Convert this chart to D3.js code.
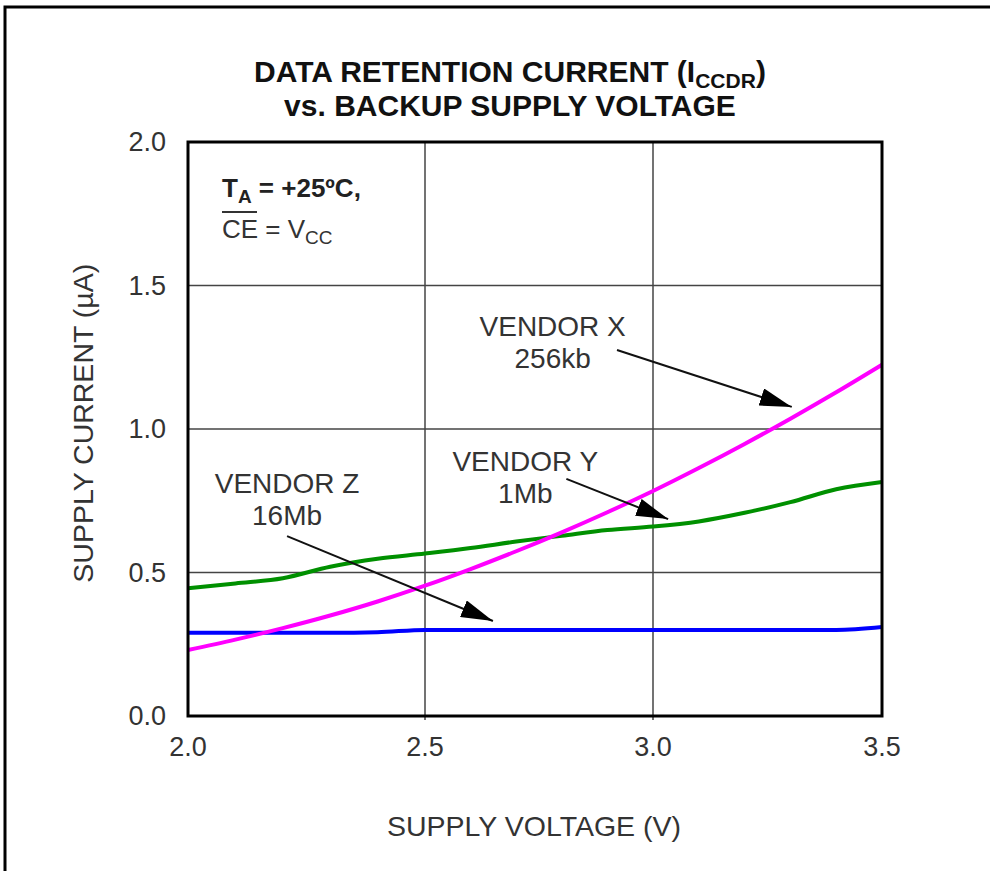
<!DOCTYPE html>
<html>
<head>
<meta charset="utf-8">
<script src="https://cdn.jsdelivr.net/npm/d3@7"></script>
<style>
  body { margin: 0; background: #fff; }
  svg text { font-family: "Liberation Sans", Arial, Helvetica, sans-serif; }
</style>
</head>
<body>
<div id="dataviz"></div>
<script>
// supply voltage samples (V)
var voltage = [2.0, 2.1, 2.2, 2.3, 2.4, 2.5, 2.6, 2.7, 2.8, 2.9, 3.0, 3.1, 3.2, 3.3, 3.4, 3.5];

// supply current (uA)
var vendorX = [0.23, 0.266, 0.306, 0.35, 0.399, 0.454, 0.512, 0.574, 0.64, 0.71, 0.784, 0.864, 0.948, 1.036, 1.128, 1.224];
var vendorY = [0.445, 0.462, 0.48, 0.52, 0.548, 0.566, 0.585, 0.608, 0.628, 0.648, 0.66, 0.678, 0.708, 0.745, 0.79, 0.815];
var vendorZ = [0.29, 0.29, 0.29, 0.29, 0.292, 0.30, 0.30, 0.30, 0.30, 0.30, 0.30, 0.30, 0.30, 0.30, 0.30, 0.31];

var xTicks = [2.0, 2.5, 3.0, 3.5];
var yTicks = [0.0, 0.5, 1.0, 1.5, 2.0];

// callout labels: [line1, line2, label x, label y, arrow from x, from y, arrow to x, to y]
var callouts = [
    ["VENDOR X", "256kb", 2.78, 1.36, 2.921, 1.275, 3.303, 1.077],
    ["VENDOR Y", "1Mb", 2.72, 0.888, 2.81, 0.826, 3.033, 0.686],
    ["VENDOR Z", "16Mb", 2.209, 0.812, 2.209, 0.627, 2.649, 0.331]
];

var W = 990, H = 871;
var margin = { top: 142, right: 108, bottom: 155, left: 188 },
    width = W - margin.left - margin.right,
    height = H - margin.top - margin.bottom;

var svg = d3.select("#dataviz").append("svg")
    .attr("width", W)
    .attr("height", H);

// outer frame (only top and left edges show)
svg.append("path")
    .attr("d", "M5,871 L5,7 L990,7")
    .attr("fill", "none")
    .attr("stroke", "#000")
    .attr("stroke-width", 3);

var g = svg.append("g")
    .attr("transform", "translate(" + margin.left + "," + margin.top + ")");

// the printed axis is a bit uneven, so map each tick to where it sits
var xScale = d3.scaleLinear()
    .domain([2.0, 2.5, 3.0, 3.5])
    .range([0, 237, 465, width]);

var yScale = d3.scaleLinear()
    .domain([0, 2])
    .range([height, 0]);

// grid
g.selectAll(".vgrid")
    .data(xTicks.slice(1, -1))
    .enter().append("line")
    .attr("x1", d => xScale(d)).attr("x2", d => xScale(d))
    .attr("y1", 0).attr("y2", height + 4)
    .attr("stroke", "#444")
    .attr("stroke-width", 1.5);

g.selectAll(".hgrid")
    .data(yTicks.slice(1, -1))
    .enter().append("line")
    .attr("x1", 0).attr("x2", width)
    .attr("y1", d => yScale(d)).attr("y2", d => yScale(d))
    .attr("stroke", "#444")
    .attr("stroke-width", 1.5);

// tick labels
g.selectAll(".xlab")
    .data(xTicks)
    .enter().append("text")
    .attr("x", d => xScale(d))
    .attr("y", height + 40)
    .attr("text-anchor", "middle")
    .attr("font-size", "27px")
    .attr("fill", "#333")
    .text(d => d3.format(".1f")(d));

g.selectAll(".ylab")
    .data(yTicks)
    .enter().append("text")
    .attr("x", -22)
    .attr("y", d => yScale(d) + 9)
    .attr("text-anchor", "end")
    .attr("font-size", "27px")
    .attr("fill", "#333")
    .text(d => d3.format(".1f")(d));

// curves
var line = d3.line()
    .x(d => xScale(d[0]))
    .y(d => yScale(d[1]))
    .curve(d3.curveMonotoneX);

var series = [
    { vals: vendorY, color: "#009000" },
    { vals: vendorZ, color: "#0000ff" },
    { vals: vendorX, color: "#ff00ff" }
];

series.forEach(function (s) {
    g.append("path")
        .datum(voltage.map((v, i) => [v, s.vals[i]]))
        .attr("fill", "none")
        .attr("stroke", s.color)
        .attr("stroke-width", 4)
        .attr("d", line);
});

// plot border
g.append("rect")
    .attr("x", 0).attr("y", 0)
    .attr("width", width).attr("height", height)
    .attr("fill", "none")
    .attr("stroke", "#000")
    .attr("stroke-width", 3);

// callouts
svg.append("defs").append("marker")
    .attr("id", "head")
    .attr("viewBox", "0 0 32 18")
    .attr("refX", 32).attr("refY", 9)
    .attr("markerWidth", 32).attr("markerHeight", 18)
    .attr("markerUnits", "userSpaceOnUse")
    .attr("orient", "auto")
    .append("path")
    .attr("d", "M0,0 L32,9 L0,18 Z")
    .attr("fill", "#000");

callouts.forEach(function (c) {
    var tx = xScale(c[2]), ty = yScale(c[3]);
    g.append("text")
        .attr("x", tx).attr("y", ty + 10)
        .attr("text-anchor", "middle")
        .attr("font-size", "28px")
        .attr("fill", "#333")
        .text(c[0]);
    g.append("text")
        .attr("x", tx).attr("y", ty + 42)
        .attr("text-anchor", "middle")
        .attr("font-size", "28px")
        .attr("fill", "#333")
        .text(c[1]);
    g.append("line")
        .attr("x1", xScale(c[4])).attr("y1", yScale(c[5]))
        .attr("x2", xScale(c[6])).attr("y2", yScale(c[7]))
        .attr("stroke", "#111")
        .attr("stroke-width", 2)
        .attr("marker-end", "url(#head)");
});

// conditions box
var cond = g.append("text")
    .attr("x", 34).attr("y", 55)
    .attr("font-size", "26px")
    .attr("font-weight", "bold")
    .attr("fill", "#222");
cond.append("tspan").text("T");
cond.append("tspan").attr("font-size", "19px").attr("dy", 6).text("A");
cond.append("tspan").attr("dy", -6).text(" = +25ºC,");

var cond2 = g.append("text")
    .attr("x", 34).attr("y", 96)
    .attr("font-size", "26px")
    .attr("fill", "#333");
cond2.append("tspan").text("CE");
cond2.append("tspan").text(" = V");
cond2.append("tspan").attr("font-size", "19px").attr("dy", 6).text("CC");
// bar over CE
g.append("line")
    .attr("x1", 34).attr("x2", 69)
    .attr("y1", 70).attr("y2", 70)
    .attr("stroke", "#333").attr("stroke-width", 2);

// titles
var t1 = svg.append("text")
    .attr("x", 510).attr("y", 82)
    .attr("text-anchor", "middle")
    .attr("font-size", "30px")
    .attr("font-weight", "bold")
    .attr("fill", "#111");
t1.append("tspan").text("DATA RETENTION CURRENT (I");
t1.append("tspan").attr("font-size", "21px").attr("dy", 6).text("CCDR");
t1.append("tspan").attr("dy", -6).text(")");

svg.append("text")
    .attr("x", 510).attr("y", 116)
    .attr("text-anchor", "middle")
    .attr("font-size", "30px")
    .attr("font-weight", "bold")
    .attr("fill", "#111")
    .text("vs. BACKUP SUPPLY VOLTAGE");

svg.append("text")
    .attr("x", margin.left + xScale(2.75) - 5).attr("y", 836)
    .attr("text-anchor", "middle")
    .attr("font-size", "28.5px")
    .attr("fill", "#333")
    .text("SUPPLY VOLTAGE (V)");

svg.append("text")
    .attr("transform", "translate(93," + (margin.top + yScale(1.02)) + ") rotate(-90)")
    .attr("text-anchor", "middle")
    .attr("font-size", "28.5px")
    .attr("fill", "#333")
    .text("SUPPLY CURRENT (µA)");
</script>
</body>
</html>
